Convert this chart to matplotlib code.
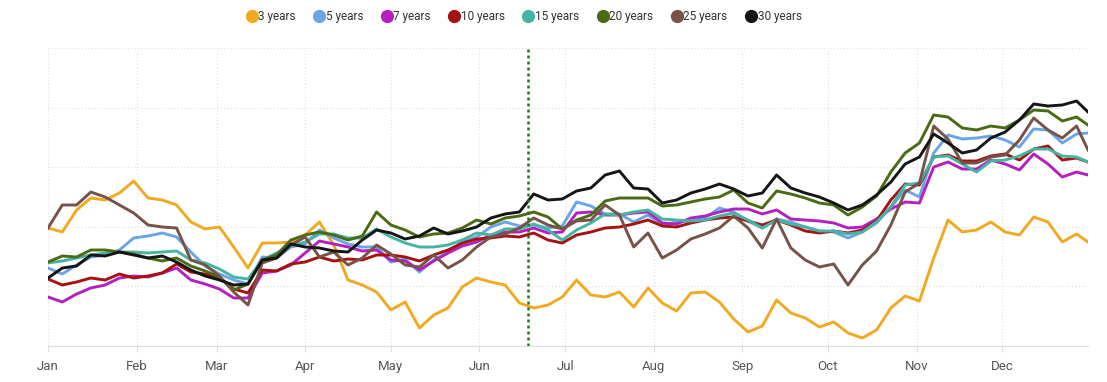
import numpy as np
import pandas as pd
import matplotlib
matplotlib.use('Agg')
import matplotlib.pyplot as plt
import matplotlib.dates as mdates
from matplotlib.lines import Line2D

plt.rcParams['font.family'] = ['Roboto', 'DejaVu Sans']

# day-of-year sampling (every 5 days, last point = Dec 31)
days = list(range(0, 361, 5)) + [364]
dates = pd.Timestamp('2021-01-01') + pd.to_timedelta(days, unit='D')

labels = ['3 years', '5 years', '7 years', '10 years', '15 years', '20 years', '25 years', '30 years']
colors = ['#f2a922', '#6aa6e6', '#b51fc2', '#a51212', '#46b4a3', '#4b6a14', '#775247', '#151515']

y3 = [118, 114, 136, 148, 146, 153, 165, 148, 146, 141, 124, 117, 119, 99, 78, 103, 103, 104, 111, 124,
      101, 66, 61, 54, 36, 44, 18, 31, 38, 59, 68, 64, 61, 43, 38, 41, 49, 66, 51, 49,
      54, 39, 58, 43, 35, 53, 54, 44, 27, 14, 20, 46, 33, 28, 19, 24, 13, 8, 16, 38,
      50, 45, 88, 126, 114, 116, 124, 114, 111, 129, 124, 104, 112, 104]
y5 = [78, 72, 81, 89, 91, 96, 108, 110, 113, 109, 94, 80, 72, 66, 62, 89, 88, 99, 102, 116,
      108, 102, 99, 99, 84, 87, 74, 86, 94, 104, 109, 119, 124, 120, 121, 118, 120, 144, 140, 132,
      132, 124, 131, 121, 124, 125, 128, 138, 134, 125, 118, 127, 124, 119, 115, 114, 108, 114, 123, 139,
      156, 149, 193, 211, 207, 208, 210, 206, 199, 217, 216, 203, 212, 213]
y7 = [49, 44, 52, 58, 61, 68, 70, 69, 73, 78, 66, 62, 57, 48, 48, 73, 75, 81, 93, 105,
      102, 99, 95, 96, 86, 85, 76, 85, 93, 100, 104, 111, 114, 114, 118, 113, 114, 133, 134, 131,
      131, 133, 134, 123, 122, 128, 130, 134, 137, 137, 132, 136, 127, 126, 125, 123, 118, 119, 127, 137,
      144, 143, 179, 184, 177, 177, 186, 182, 176, 192, 182, 169, 174, 171]
y10 = [67, 61, 64, 68, 66, 72, 68, 70, 73, 82, 74, 72, 68, 57, 53, 76, 75, 82, 84, 89,
       85, 87, 86, 91, 91, 89, 85, 91, 96, 103, 107, 108, 110, 109, 113, 106, 103, 111, 114, 118,
       119, 122, 126, 120, 119, 123, 126, 128, 129, 125, 121, 126, 121, 115, 113, 115, 113, 116, 125, 146,
       162, 161, 189, 191, 185, 185, 190, 192, 186, 197, 200, 186, 188, 184]
y15 = [83, 85, 88, 91, 93, 94, 94, 93, 94, 95, 86, 83, 77, 69, 67, 86, 93, 100, 104, 112,
       112, 108, 108, 117, 109, 103, 99, 99, 101, 106, 113, 111, 117, 117, 122, 116, 106, 116, 123, 132,
       131, 134, 136, 127, 126, 125, 126, 130, 133, 126, 118, 126, 122, 119, 115, 115, 112, 114, 124, 139,
       161, 163, 189, 190, 182, 174, 185, 186, 190, 197, 197, 190, 189, 184]
y20 = [84, 90, 89, 96, 96, 94, 92, 88, 85, 88, 80, 75, 69, 56, 62, 86, 91, 106, 111, 114,
       111, 106, 110, 134, 121, 116, 109, 112, 113, 118, 126, 122, 128, 130, 134, 129, 117, 126, 131, 145,
       148, 148, 148, 140, 141, 144, 147, 149, 156, 143, 138, 155, 152, 148, 143, 141, 131, 139, 150, 174,
       193, 203, 231, 229, 218, 216, 220, 218, 226, 236, 235, 225, 229, 221]
y25 = [118, 141, 141, 154, 149, 141, 133, 121, 119, 118, 86, 81, 70, 54, 41, 83, 88, 101, 109, 89,
       94, 81, 88, 101, 92, 81, 79, 91, 78, 86, 99, 109, 112, 118, 128, 121, 117, 125, 126, 141,
       131, 99, 113, 88, 96, 107, 112, 118, 130, 118, 98, 127, 98, 86, 79, 82, 61, 81, 95, 121,
       154, 163, 220, 207, 183, 183, 189, 191, 206, 228, 216, 208, 220, 196]
y30 = [68, 78, 80, 91, 90, 94, 91, 88, 90, 84, 76, 70, 66, 61, 62, 86, 88, 102, 99, 98,
       95, 94, 106, 116, 113, 107, 110, 118, 112, 115, 119, 128, 132, 134, 152, 146, 147, 155, 158, 171,
       175, 158, 157, 143, 146, 153, 157, 162, 157, 150, 153, 171, 158, 153, 149, 143, 136, 141, 151, 164,
       182, 189, 212, 203, 193, 196, 208, 214, 226, 242, 240, 241, 245, 234]
series = [y3, y5, y7, y10, y15, y20, y25, y30]

marker_date = pd.Timestamp('2021-06-18')

fig = plt.figure(figsize=(11.07, 3.82), dpi=100)
ax = fig.add_axes([48 / 1107, 36 / 382, 1040 / 1107, 298 / 382])

for vals, c, lab in zip(series, colors, labels):
    ax.plot(dates, vals, color=c, lw=2.1, label=lab, solid_joinstyle='round', zorder=3)

ax.axvline(marker_date, color='#1f7a1f', lw=1.8, ls=(0, (1.2, 1.2)), zorder=4)

ax.set_xlim(pd.Timestamp('2021-01-01'), pd.Timestamp('2021-12-31'))
ax.set_ylim(0, 298)
ax.set_yticks(np.linspace(0, 298, 6))
ax.tick_params(axis='y', left=False, labelleft=False)
ax.xaxis.set_major_locator(mdates.MonthLocator())
ax.xaxis.set_major_formatter(mdates.DateFormatter('%b'))
ax.tick_params(axis='x', colors='#dddddd', labelcolor='#555555', labelsize=9.5, length=4, pad=6)
ax.grid(True, color='#e3e3e3', ls=':', lw=0.9, zorder=0)
for s in ['top', 'right', 'left']:
    ax.spines[s].set_visible(False)
ax.spines['bottom'].set_color('#dddddd')

handles = [Line2D([], [], marker='o', ls='', color=c, markersize=8.5) for c in colors]
fig.legend(handles, labels, loc='center', bbox_to_anchor=(0.473, 0.957), ncol=8, frameon=False,
           fontsize=8.5, handletextpad=0.05, columnspacing=1.5, handlelength=1.0, labelcolor='#333333')

fig.savefig('out.png', dpi=100)
